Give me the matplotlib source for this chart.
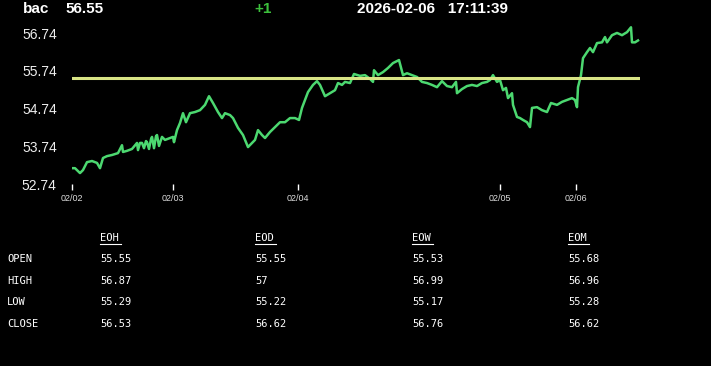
import matplotlib
matplotlib.use("Agg")
import matplotlib.pyplot as plt
from matplotlib.lines import Line2D

# header
symbol = "bac"
last_price = "56.55"
change = "+1"
stamp = "2026-02-06   17:11:39"

# intraday series: bar index and price
bars = [0, 3, 8, 11, 15, 20, 25, 28, 31, 35, 40, 46, 50, 51, 55, 60, 65, 66, 68, 70,
        72, 74, 75, 77, 79, 80, 82, 84, 85, 87, 90, 93, 98, 101, 102, 105, 108, 111, 114, 118,
        123, 128, 133, 137, 141, 146, 150, 153, 158, 161, 166, 171, 176, 180, 183, 186, 190, 193, 198, 203,
        208, 213, 218, 223, 227, 230, 233, 236, 241, 245, 248, 253, 258, 263, 266, 270, 273, 278, 282, 288,
        293, 298, 301, 302, 306, 311, 316, 321, 327, 331, 335, 340, 345, 350, 355, 360, 365, 370, 375, 380,
        384, 385, 390, 395, 400, 405, 410, 415, 418, 421, 425, 428, 431, 434, 436, 440, 441, 445, 448, 451,
        455, 458, 460, 465, 470, 475, 479, 485, 490, 495, 500, 503, 505, 506, 509, 511, 515, 518, 521, 525,
        530, 533, 535, 540, 545, 550, 555, 559, 560, 563, 566]
prices = [53.16, 53.16, 53.03, 53.11, 53.32, 53.35, 53.30, 53.16, 53.43, 53.48, 53.51, 53.56, 53.77, 53.59, 53.62, 53.67, 53.83, 53.64, 53.83, 53.83,
          53.69, 53.88, 53.85, 53.67, 53.93, 53.99, 53.69, 54.01, 54.04, 53.75, 53.99, 53.91, 53.96, 53.99, 53.85, 54.17, 54.36, 54.62, 54.38, 54.62,
          54.65, 54.70, 54.84, 55.07, 54.89, 54.65, 54.49, 54.62, 54.57, 54.49, 54.23, 54.04, 53.72, 53.83, 53.91, 54.17, 54.04, 53.96, 54.12, 54.25,
          54.38, 54.38, 54.49, 54.49, 54.44, 54.76, 54.97, 55.18, 55.37, 55.47, 55.37, 55.07, 55.15, 55.23, 55.42, 55.37, 55.45, 55.42, 55.66, 55.61,
          55.63, 55.53, 55.45, 55.76, 55.63, 55.71, 55.82, 55.95, 56.03, 55.63, 55.68, 55.63, 55.58, 55.45, 55.42, 55.37, 55.31, 55.47, 55.34, 55.31,
          55.45, 55.15, 55.26, 55.34, 55.37, 55.34, 55.42, 55.45, 55.50, 55.63, 55.45, 55.50, 55.23, 55.29, 55.02, 55.15, 54.84, 54.52, 54.49, 54.44,
          54.38, 54.25, 54.76, 54.78, 54.70, 54.65, 54.89, 54.84, 54.92, 54.97, 55.02, 54.97, 54.78, 55.31, 55.63, 56.08, 56.24, 56.35, 56.24, 56.48,
          56.50, 56.64, 56.50, 56.69, 56.75, 56.69, 56.77, 56.90, 56.50, 56.50, 56.55]
open_price = 55.55

day_ticks = [0, 101, 226, 428, 504]
day_labels = ["02/02", "02/03", "02/04", "02/05", "02/06"]
price_ticks = [52.74, 53.74, 54.74, 55.74, 56.74]

# summary table
col_names = ["EOH", "EOD", "EOW", "EOM"]
row_names = ["OPEN", "HIGH", "LOW", "CLOSE"]
eoh = ["55.55", "56.87", "55.29", "56.53"]
eod = ["55.55", "57", "55.22", "56.62"]
eow = ["55.53", "56.99", "55.17", "56.76"]
eom = ["55.68", "56.96", "55.28", "56.62"]

W, H = 711, 366
fig = plt.figure(figsize=(W / 100, H / 100), dpi=100, facecolor="black")
ax = fig.add_axes([72 / W, 1 - 184 / H, 568 / W, 162 / H], facecolor="black")

ax.plot(bars, prices, color="#4cd870", linewidth=1.8)
ax.plot([0, 568], [open_price, open_price], color="#d8e485", linewidth=2.2)

ax.set_xlim(0, 568)
ax.set_ylim(52.74, 57.04)
ax.set_xticks(day_ticks)
ax.set_xticklabels(day_labels)
ax.set_yticks(price_ticks)
ax.set_yticklabels([f"{p:.2f}" for p in price_ticks])
ax.tick_params(axis="x", colors="white", length=4, width=1, labelsize=6.5, pad=3, labelcolor="#dddddd")
ax.tick_params(axis="y", length=0, labelsize=10, pad=11, labelcolor="#eeeeee")
for s in ax.spines.values():
    s.set_visible(False)
for lab in ax.get_xticklabels() + ax.get_yticklabels():
    lab.set_family("Liberation Sans")

# header line
hdr = dict(color="white", fontsize=11, fontweight="bold", family="Liberation Sans", va="center")
fig.text(23 / W, 1 - 9 / H, symbol, **hdr)
fig.text(65 / W, 1 - 9 / H, last_price, **hdr)
fig.text(254 / W, 1 - 9 / H, change, **{**hdr, "color": "#3cc03c"})
fig.text(357 / W, 1 - 9 / H, stamp, **hdr)

# table
mono = dict(color="white", fontsize=7.5, family="DejaVu Sans Mono", va="center")
col_x = [100, 255, 412, 568]
row_y = [259, 281, 302, 324]
cols = [eoh, eod, eow, eom]
for cx, name, vals in zip(col_x, col_names, cols):
    t = fig.text(cx / W, 1 - 238 / H, name, **mono)
    fig.add_artist(Line2D([cx / W, (cx + 21) / W], [1 - 244 / H, 1 - 244 / H],
                          color="white", linewidth=0.8, transform=fig.transFigure))
    for ry, v in zip(row_y, vals):
        fig.text(cx / W, 1 - ry / H, v, **mono)
for ry, name in zip(row_y, row_names):
    fig.text(7 / W, 1 - ry / H, name, **mono)

fig.savefig("out.png", dpi=100, facecolor="black")
